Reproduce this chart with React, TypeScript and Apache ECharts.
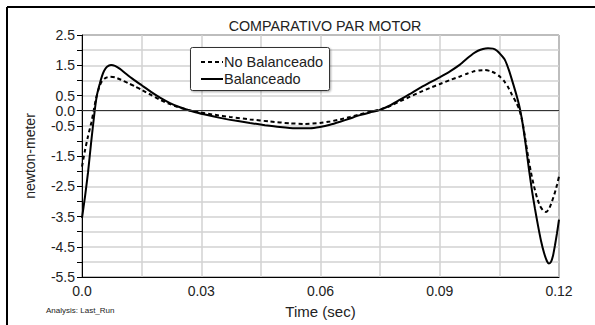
import React, { useEffect, useRef } from "react";
import * as echarts from "echarts";

const chartTitle = "COMPARATIVO PAR MOTOR";
const yAxisName = "newton-meter";
const xAxisName = "Time (sec)";
const footNote = "Analysis: Last_Run";
const seriesNames = ["No Balanceado", "Balanceado"];

// Balanceado (solid) — time in seconds, torque in newton-meter
const balTime = [0, 0.00075, 0.00151, 0.00226, 0.0032, 0.00377, 0.00445, 0.00503, 0.00554, 0.00629, 0.0073, 0.0083, 0.00956, 0.01107, 0.01283, 0.01509, 0.01736, 0.01962, 0.02214, 0.02465, 0.02767, 0.03094, 0.03472, 0.03849, 0.04226, 0.04604, 0.04981, 0.05358, 0.05736, 0.05987, 0.06239, 0.06491, 0.06742, 0.06994, 0.07245, 0.07447, 0.07748, 0.08, 0.08252, 0.08503, 0.08755, 0.09006, 0.09258, 0.09509, 0.09686, 0.09836, 0.09962, 0.10088, 0.10214, 0.1034, 0.1044, 0.10541, 0.10642, 0.10742, 0.10843, 0.10943, 0.11019, 0.11094, 0.1117, 0.11245, 0.11321, 0.11396, 0.11472, 0.11547, 0.11623, 0.11698, 0.11748, 0.11799, 0.11849, 0.11899, 0.1195, 0.12];
const balValues = [-3.55, -2.85, -2.05, -1.1, 0, 0.52, 0.88, 1.14, 1.31, 1.45, 1.51, 1.48, 1.38, 1.22, 1.04, 0.83, 0.62, 0.43, 0.25, 0.11, -0.02, -0.13, -0.24, -0.33, -0.41, -0.48, -0.54, -0.58, -0.58, -0.54, -0.47, -0.37, -0.26, -0.15, -0.06, 0, 0.17, 0.36, 0.55, 0.75, 0.93, 1.11, 1.3, 1.52, 1.72, 1.88, 1.98, 2.04, 2.06, 2.05, 1.98, 1.84, 1.67, 1.33, 0.9, 0.45, 0.05, -0.5, -1.2, -1.95, -2.65, -3.25, -3.8, -4.3, -4.7, -4.98, -5.05, -5.0, -4.8, -4.45, -4.05, -3.6];

// No Balanceado (dashed)
const noTime = [0, 0.00068, 0.00151, 0.00234, 0.00294, 0.00352, 0.00445, 0.00503, 0.00571, 0.00629, 0.00704, 0.0083, 0.00981, 0.01157, 0.01333, 0.01509, 0.01736, 0.01962, 0.02164, 0.0239, 0.02591, 0.02767, 0.02969, 0.03346, 0.03723, 0.04226, 0.0473, 0.05233, 0.0561, 0.05987, 0.06239, 0.06491, 0.06742, 0.06994, 0.07245, 0.07447, 0.07748, 0.08, 0.08252, 0.08503, 0.08755, 0.09006, 0.09258, 0.09509, 0.09686, 0.09836, 0.09987, 0.10138, 0.10264, 0.1039, 0.10516, 0.10616, 0.10717, 0.10818, 0.10918, 0.10994, 0.11069, 0.11145, 0.1122, 0.11296, 0.11371, 0.11447, 0.11522, 0.11598, 0.11673, 0.11748, 0.11824, 0.11899, 0.1195, 0.12];
const noValues = [-1.85, -1.36, -0.85, -0.4, 0, 0.4, 0.82, 0.97, 1.06, 1.1, 1.12, 1.1, 1.02, 0.91, 0.8, 0.68, 0.52, 0.36, 0.24, 0.13, 0.05, -0.01, -0.06, -0.14, -0.21, -0.29, -0.36, -0.42, -0.44, -0.41, -0.36, -0.29, -0.21, -0.12, -0.04, 0.02, 0.15, 0.31, 0.46, 0.61, 0.75, 0.88, 1.01, 1.13, 1.22, 1.29, 1.33, 1.34, 1.31, 1.24, 1.12, 0.98, 0.78, 0.52, 0.28, 0.06, -0.3, -0.88, -1.5, -2.05, -2.5, -2.88, -3.15, -3.3, -3.35, -3.25, -3.0, -2.7, -2.45, -2.18];

const xMin = 0;
const xMax = 0.12;
const xStep = 0.015;
const yMin = -5.5;
const yMax = 2.5;
const yStep = 0.5;

const FONT = "'Liberation Sans', Arial, Helvetica, sans-serif";

export default function App() {
  const ref = useRef<HTMLDivElement>(null);

  useEffect(() => {
    if (!ref.current) return;
    const chart = echarts.init(ref.current, undefined, { renderer: "svg" });
    const pair = (t: number[], v: number[]) => t.map((x, i) => [x, v[i]]);

    chart.setOption({
      animation: false,
      backgroundColor: "#ffffff",
      textStyle: { fontFamily: FONT },
      title: {
        text: chartTitle,
        left: 320,
        top: 14,
        textAlign: "center",
        textStyle: { fontFamily: FONT, fontSize: 14.3, fontWeight: "normal", color: "#222" },
      },
      grid: {
        left: 82,
        top: 35,
        width: 477,
        height: 242,
        outerBoundsMode: "none",
        containLabel: false,
        show: true,
        borderColor: "#000",
        borderWidth: 1,
        backgroundColor: "#fff",
      },
      xAxis: {
        type: "value",
        min: xMin,
        max: xMax,
        interval: xStep,
        name: xAxisName,
        nameLocation: "middle",
        nameGap: 27,
        nameTextStyle: { fontFamily: FONT, fontSize: 15, color: "#222" },
        axisLine: { show: true, onZero: false, lineStyle: { color: "#000", width: 1 } },
        axisTick: { show: false },
        splitLine: { show: true, lineStyle: { color: "#d2d2d2", width: 1.5 } },
        axisLabel: {
          show: true,
          showMinLabel: true,
          showMaxLabel: true,
          margin: 7,
          fontFamily: FONT,
          fontSize: 14,
          color: "#222",
          formatter: (v: number) => {
            const k = Math.round(v / xStep);
            if (k % 2 !== 0) return "";
            return k === 0 ? "0.0" : (k * xStep).toFixed(2);
          },
        },
      },
      yAxis: {
        type: "value",
        min: yMin,
        max: yMax,
        interval: yStep,
        name: yAxisName,
        nameLocation: "middle",
        nameGap: 45,
        nameTextStyle: { fontFamily: FONT, fontSize: 14, color: "#222" },
        axisLine: { show: true, lineStyle: { color: "#000", width: 1 } },
        axisTick: { show: true, length: 5, lineStyle: { color: "#000" } },
        splitLine: { show: true, lineStyle: { color: "#d2d2d2", width: 1.5 } },
        axisLabel: {
          show: true,
          showMinLabel: true,
          showMaxLabel: true,
          margin: 7,
          fontFamily: FONT,
          fontSize: 14,
          color: "#222",
          formatter: (v: number) => {
            const k = Math.round(v / yStep);
            if (k === 0 || Math.abs(k) % 2 === 1) return (k * yStep).toFixed(1);
            return "";
          },
        },
      },
      series: [
        {
          name: seriesNames[0],
          type: "line",
          data: pair(noTime, noValues),
          symbol: "none",
          smooth: 0.2,
          lineStyle: { color: "#000", width: 2, type: [4, 3] },
          z: 3,
          markLine: {
            silent: true,
            symbol: "none",
            label: { show: false },
            lineStyle: { color: "#333", width: 1, type: "solid" },
            data: [{ yAxis: 0 }],
          },
        },
        {
          name: seriesNames[1],
          type: "line",
          data: pair(balTime, balValues),
          symbol: "none",
          smooth: 0.2,
          lineStyle: { color: "#000", width: 2, type: "solid" },
          z: 4,
        },
      ],
      graphic: [
        {
          type: "line",
          shape: { x1: 7, y1: 7, x2: 595, y2: 7 },
          style: { stroke: "#000", lineWidth: 2 },
          silent: true,
        },
        {
          type: "line",
          shape: { x1: 7, y1: 7, x2: 7, y2: 325 },
          style: { stroke: "#000", lineWidth: 2 },
          silent: true,
        },
        {
          type: "rect",
          shape: { x: 190.5, y: 47.5, width: 139, height: 43, r: 2 },
          style: {
            fill: "#fff",
            stroke: "#333",
            lineWidth: 1,
            shadowBlur: 2,
            shadowOffsetX: 1,
            shadowOffsetY: 1,
            shadowColor: "rgba(0,0,0,0.35)",
          },
          z: 10,
        },
        {
          type: "line",
          shape: { x1: 201, y1: 62, x2: 223, y2: 62 },
          style: { stroke: "#000", lineWidth: 2, lineDash: [4, 3] },
          z: 11,
        },
        {
          type: "text",
          x: 224,
          y: 62,
          style: {
            text: seriesNames[0],
            fontFamily: FONT,
            fontSize: 14.5,
            fill: "#222",
            verticalAlign: "middle",
          },
          z: 11,
        },
        {
          type: "line",
          shape: { x1: 201, y1: 79, x2: 223, y2: 79 },
          style: { stroke: "#000", lineWidth: 2 },
          z: 11,
        },
        {
          type: "text",
          x: 224,
          y: 79,
          style: {
            text: seriesNames[1],
            fontFamily: FONT,
            fontSize: 14.5,
            fill: "#222",
            verticalAlign: "middle",
          },
          z: 11,
        },
        {
          type: "text",
          x: 46,
          y: 310,
          style: {
            text: footNote,
            fontFamily: FONT,
            fontSize: 8,
            fill: "#222",
            verticalAlign: "middle",
          },
        },
      ],
    });

    return () => chart.dispose();
  }, []);

  return (
    <div
      ref={ref}
      style={{ position: "fixed", left: 0, top: 0, width: 595, height: 325, background: "#fff" }}
    />
  );
}
